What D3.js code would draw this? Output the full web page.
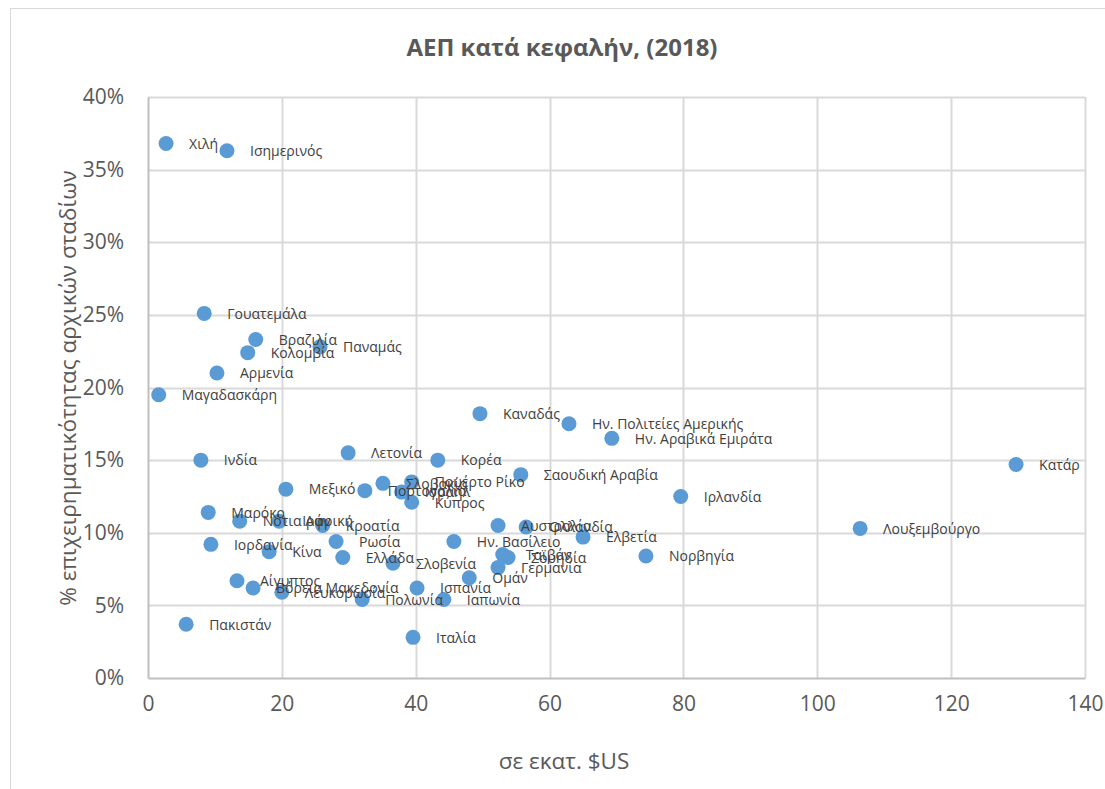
<!DOCTYPE html>
<html>
<head>
<meta charset="utf-8">
<script src="https://cdn.jsdelivr.net/npm/d3@7"></script>
<style>
  body { margin: 0; background: #fff; }
  text { font-family: "Open Sans", "Noto Sans", sans-serif; }
</style>
</head>
<body>
<div id="chart"></div>
<script>
var width = 1105
var height = 789
var margin = {top: 97, left: 148, right: 20, bottom: 111}

// chart data: country, GDP per capita, early-stage entrepreneurship %
var countries = ["Χιλή","Ισημερινός","Γουατεμάλα","Βραζιλία","Κολομβία","Παναμάς","Αρμενία","Μαγαδασκάρη",
  "Καναδάς","Ην. Πολιτείες Αμερικής","Ην. Αραβικά Εμιράτα","Λετονία","Κορέα","Ινδία","Κατάρ","Σαουδική Αραβία",
  "Ιρλανδία","Μεξικό","Σλοβακία","Πουέρτο Ρίκο","Πορτογαλία","Ισραήλ","Κύπρος","Λουξεμβούργο","Μαρόκο",
  "Νότια Αφρική","Ιράν","Κροατία","Ιορδανία","Κίνα","Ρωσία","Ελλάδα","Σλοβενία","Ην. Βασίλειο","Αυστραλία",
  "Ολλανδία","Ελβετία","Νορβηγία","Ταϊβάν","Σουηδία","Γερμανία","Ομάν","Ισπανία","Ιαπωνία","Πολωνία","Ιταλία",
  "Πακιστάν","Αίγυπτος","Λευκορωσία","Βόρεια Μακεδονία"]
var gdp = [2.7,11.8,8.4,16.1,14.9,25.7,10.3,1.6,
  49.6,62.9,69.3,29.9,43.3,7.9,129.7,55.7,
  79.6,20.6,35.1,39.4,32.4,37.9,39.4,106.4,9.0,
  13.7,19.6,26.1,9.4,18.1,28.1,29.1,36.6,45.7,52.3,
  56.5,65.0,74.4,53.0,53.8,52.3,48.0,40.2,44.2,32.0,39.6,
  5.7,13.3,20.0,15.7]
var tea = [36.8,36.3,25.1,23.3,22.4,22.8,21.0,19.5,
  18.2,17.5,16.5,15.5,15.0,15.0,14.7,14.0,
  12.5,13.0,13.4,13.5,12.9,12.8,12.1,10.3,11.4,
  10.8,10.8,10.5,9.2,8.7,9.4,8.3,7.9,9.4,10.5,
  10.4,9.7,8.4,8.5,8.3,7.6,6.9,6.2,5.4,5.4,2.8,
  3.7,6.7,5.9,6.2]
var xTicks = [0,20,40,60,80,100,120,140]
var yTicks = [0,0.05,0.10,0.15,0.20,0.25,0.30,0.35,0.40]

var data = countries.map(function(c,i){ return {name: c, x: gdp[i], y: tea[i]/100} })

var svg = d3.select('#chart')
      .append('svg')
      .attr('width', width)
      .attr('height', height)

// outer chart frame
svg.append('rect')
    .attr('x', 10.5).attr('y', 8.5)
    .attr('width', 1110).attr('height', 800)
    .attr('fill', 'none')
    .attr('stroke', '#d9d9d9')

var xScale = d3.scaleLinear().domain([0,140]).range([margin.left, 1085])
var yScale = d3.scaleLinear().domain([0,0.40]).range([678, margin.top])

// gridlines
svg.append('g').selectAll('line')
    .data(yTicks.slice(1))
    .enter().append('line')
    .attr('x1', xScale(0)).attr('x2', xScale(140))
    .attr('y1', function(d){ return Math.round(yScale(d)) + 0.5 })
    .attr('y2', function(d){ return Math.round(yScale(d)) + 0.5 })
    .attr('stroke', '#d9d9d9').attr('stroke-width', 2)

svg.append('g').selectAll('line')
    .data(xTicks.slice(1))
    .enter().append('line')
    .attr('y1', yScale(0)).attr('y2', yScale(0.40))
    .attr('x1', function(d){ return Math.round(xScale(d)) + 0.5 })
    .attr('x2', function(d){ return Math.round(xScale(d)) + 0.5 })
    .attr('stroke', '#d9d9d9').attr('stroke-width', 2)

// axes
var xAxis = d3.axisBottom(xScale).tickValues(xTicks).tickSize(0).tickPadding(18)
var gx = svg.append('g')
    .attr('transform', 'translate(0,' + yScale(0) + ')')
    .call(xAxis)
gx.select('.domain').attr('stroke', '#bfbfbf').attr('stroke-width', 2)
gx.selectAll('text').attr('font-size', '21px').attr('fill', '#595959')
    .style('font-family', '"Open Sans", sans-serif')

var yAxis = d3.axisLeft(yScale).tickValues(yTicks).tickFormat(d3.format('.0%')).tickSize(0).tickPadding(24)
var gy = svg.append('g')
    .attr('transform', 'translate(' + xScale(0) + ',0)')
    .call(yAxis)
gy.select('.domain').attr('stroke', '#bfbfbf').attr('stroke-width', 2)
gy.selectAll('text').attr('font-size', '21px').attr('fill', '#595959')
    .style('font-family', '"Open Sans", sans-serif')

// points
svg.append('g').selectAll('circle')
    .data(data)
    .enter().append('circle')
    .attr('cx', function(d){ return xScale(d.x) })
    .attr('cy', function(d){ return yScale(d.y) })
    .attr('r', 7.5)
    .attr('fill', '#5b9bd5')

// data labels, placed right of each point
svg.append('g').selectAll('text')
    .data(data)
    .enter().append('text')
    .attr('x', function(d){ return xScale(d.x) + 23 })
    .attr('y', function(d){ return yScale(d.y) })
    .attr('dy', '0.38em')
    .attr('font-size', '14px')
    .attr('fill', '#404040')
    .text(function(d){ return d.name })

// titles
svg.append('text')
    .attr('x', 562).attr('y', 56)
    .attr('text-anchor', 'middle')
    .attr('font-size', '24px').attr('font-weight', 'bold')
    .attr('fill', '#595959')
    .text('ΑΕΠ κατά κεφαλήν, (2018)')

svg.append('text')
    .attr('x', 564).attr('y', 769)
    .attr('text-anchor', 'middle')
    .attr('font-size', '22.5px')
    .attr('fill', '#595959')
    .text('σε εκατ. $US')

svg.append('text')
    .attr('transform', 'translate(76,388) rotate(-90)')
    .attr('text-anchor', 'middle')
    .attr('font-size', '22.5px')
    .attr('fill', '#595959')
    .text('% επιχειρηματικότητας αρχικών σταδίων')
</script>
</body>
</html>
